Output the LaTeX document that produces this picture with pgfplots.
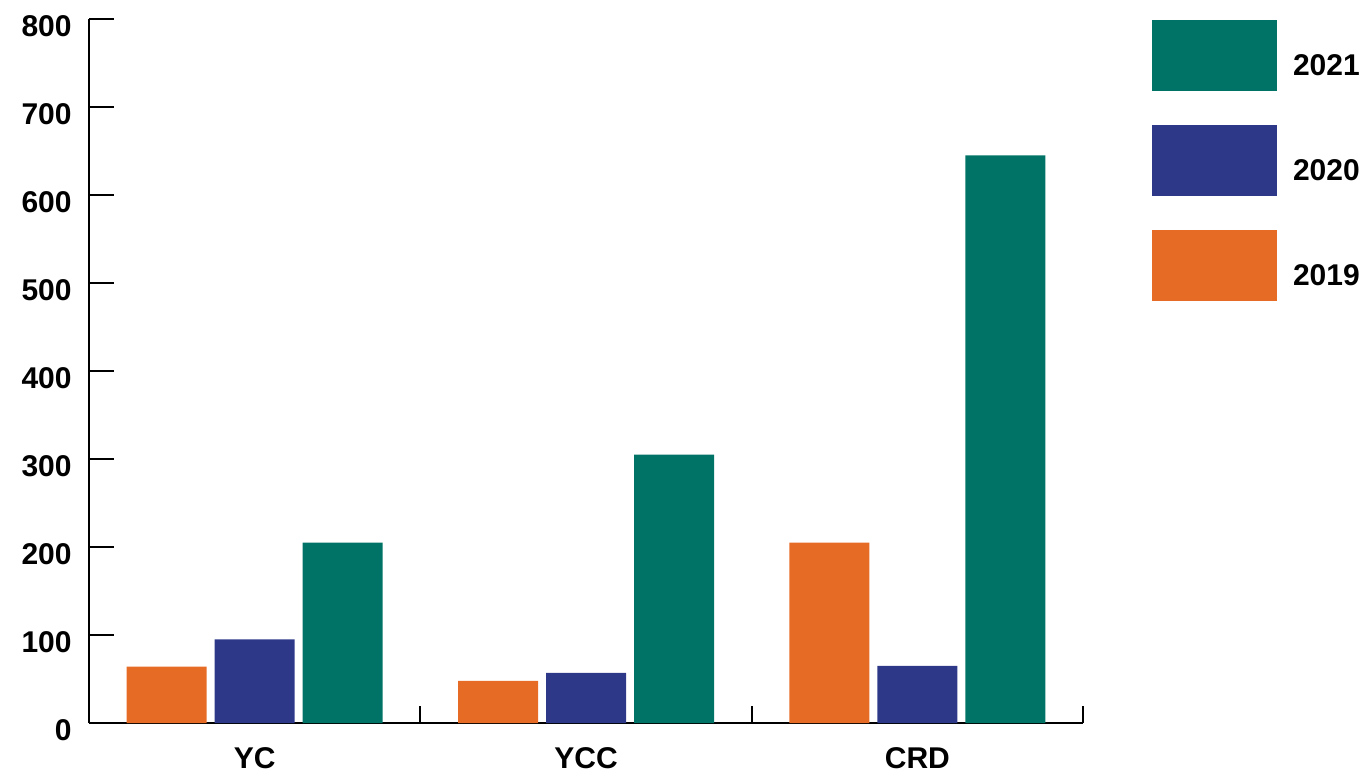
\documentclass[border=0pt]{standalone}
\usepackage{pgfplots}
\pgfplotsset{compat=1.18}
\usepackage{fontspec}
\setmainfont{Liberation Sans}
\definecolor{cgreen}{RGB}{0,115,102}
\definecolor{cblue}{RGB}{45,57,136}
\definecolor{corange}{RGB}{230,107,37}
\begin{document}
\begin{tikzpicture}
\useasboundingbox (-44.5pt,-26pt) rectangle (639.5pt,361.5pt);
\begin{axis}[
  at={(0,0)}, anchor=south west,
  scale only axis, width=497pt, height=352pt,
  xmin=-0.5, xmax=2.5, ymin=0, ymax=800,
  axis x line*=bottom, axis y line*=left,
  axis line style={black, line width=1pt},
  ybar=4pt, bar width=40pt,
  xtick={0,1,2}, xticklabels={YC,YCC,CRD},
  minor xtick={0.5,1.5,2.5},
  ytick={0,100,...,800},
  tick align=inside,
  major tick length=12.5pt, minor tick length=8.5pt,
  tick style={black, line width=1pt},
  major x tick style={draw=none},
  /pgf/number format/assume math mode=true,
  tick label style={font=\fontsize{15}{18}\selectfont\bfseries},
  yticklabel style={inner sep=0pt, anchor=east, xshift=-8.5pt, yshift=-3.5pt},
  xticklabel style={inner sep=0pt, anchor=north, yshift=-12pt},
  legend style={at={(rel axis cs:1.0694,0.998)}, anchor=north west, draw=none, fill=none,
    inner sep=0pt, outer sep=0pt, row sep=17pt,
    font=\fontsize{15}{18}\selectfont\bfseries,
    /tikz/every odd column/.append style={column sep=6pt}},
  legend cell align=left, reverse legend,
]
\addplot[fill=corange, draw=none, legend image code/.code={\fill[corange] (0pt,-12.6pt) rectangle (62.5pt,22.9pt);}]
  coordinates {(0,64) (1,48) (2,205)};
\addplot[fill=cblue, draw=none, legend image code/.code={\fill[cblue] (0pt,-12.6pt) rectangle (62.5pt,22.9pt);}]
  coordinates {(0,95) (1,57) (2,65)};
\addplot[fill=cgreen, draw=none, legend image code/.code={\fill[cgreen] (0pt,-12.6pt) rectangle (62.5pt,22.9pt);}]
  coordinates {(0,205) (1,305) (2,645)};
\legend{2019,2020,2021}
\end{axis}
\end{tikzpicture}
\end{document}
